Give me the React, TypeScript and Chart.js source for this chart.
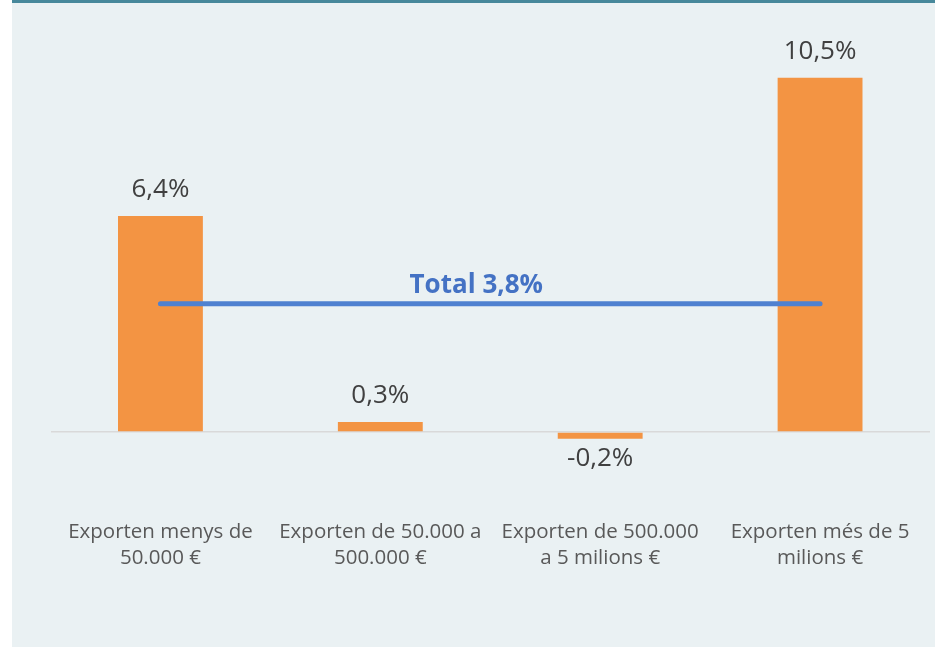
import React, { useEffect, useRef } from "react";
import { Chart, registerables } from "chart.js";

Chart.register(...registerables);

const categories: string[][] = [
  ["Exporten menys de", "50.000 €"],
  ["Exporten de 50.000 a", "500.000 €"],
  ["Exporten de 500.000", "a 5 milions €"],
  ["Exporten més de 5", "milions €"],
];
const values: number[] = [6.4, 0.3, -0.2, 10.5];
const valueLabels: string[] = ["6,4%", "0,3%", "-0,2%", "10,5%"];
const totalValue = 3.8;
const totalLabel = "Total 3,8%";

const FONT = "'Open Sans', sans-serif";

const labelPlugin = {
  id: "valueLabels",
  afterDatasetsDraw(chart: any) {
    const ctx = chart.ctx;
    const meta = chart.getDatasetMeta(1);
    ctx.save();
    ctx.fillStyle = "#404040";
    ctx.font = `26px ${FONT}`;
    ctx.textAlign = "center";
    ctx.textBaseline = "alphabetic";
    meta.data.forEach((bar: any, i: number) => {
      const v = values[i];
      if (v >= 0) {
        ctx.fillText(valueLabels[i], bar.x, bar.y - 19);
      } else {
        ctx.fillText(valueLabels[i], bar.x, bar.y + 27);
      }
    });
    const xs = chart.scales.x;
    const ys = chart.scales.y;
    const cx = (xs.getPixelForValue(1) + xs.getPixelForValue(2)) / 2 - 14;
    const cy = ys.getPixelForValue(totalValue) - 11;
    ctx.fillStyle = "#4472C4";
    ctx.font = `bold 26px ${FONT}`;
    ctx.fillText(totalLabel, cx, cy);
    ctx.restore();
  },
};

export default function App() {
  const ref = useRef<HTMLCanvasElement | null>(null);
  useEffect(() => {
    if (!ref.current) return;
    const chart = new Chart(ref.current, {
      type: "bar",
      data: {
        labels: categories,
        datasets: [
          {
            type: "line",
            data: values.map(() => totalValue),
            borderColor: "#4F81D0",
            borderWidth: 5,
            pointRadius: 0,
            borderCapStyle: "round",
            order: 0,
          } as any,
          {
            type: "bar",
            data: values,
            backgroundColor: "#F39443",
            categoryPercentage: 1,
            barPercentage: 0.386,
            order: 1,
          },
        ],
      },
      options: {
        responsive: false,
        animation: false,
        maintainAspectRatio: false,
        layout: { padding: { left: 50.5, right: 5, top: 43.9, bottom: 56 } },
        plugins: { legend: { display: false }, tooltip: { enabled: false } },
        scales: {
          x: {
            grid: { display: false, drawTicks: false },
            border: { display: false },
            ticks: {
              color: "#595959",
              font: { family: FONT, size: 20.5, lineHeight: 1.28 },
              padding: 19.5,
              maxRotation: 0,
              autoSkip: false,
            },
          },
          y: {
            min: -2,
            max: 11.5,
            border: { display: false },
            grid: {
              drawTicks: false,
              lineWidth: 1.5,
              color: (c: any) => (c.tick && c.tick.value === 0 ? "#D9D9D9" : "rgba(0,0,0,0)"),
            },
            ticks: { display: false, stepSize: 1 },
          },
        },
      },
      plugins: [labelPlugin],
    });
    return () => chart.destroy();
  }, []);
  return (
    <div style={{ position: "fixed", left: 0, top: 0, width: 935, height: 647, background: "#fff" }}>
      <div style={{ position: "absolute", left: 12, top: 0, width: 923, height: 647, background: "#EAF1F3" }} />
      <div style={{ position: "absolute", left: 12, top: 0, width: 923, height: 3, background: "#47889B" }} />
      <canvas ref={ref} width={935} height={647} style={{ position: "absolute", left: 0, top: 0 }} />
    </div>
  );
}
